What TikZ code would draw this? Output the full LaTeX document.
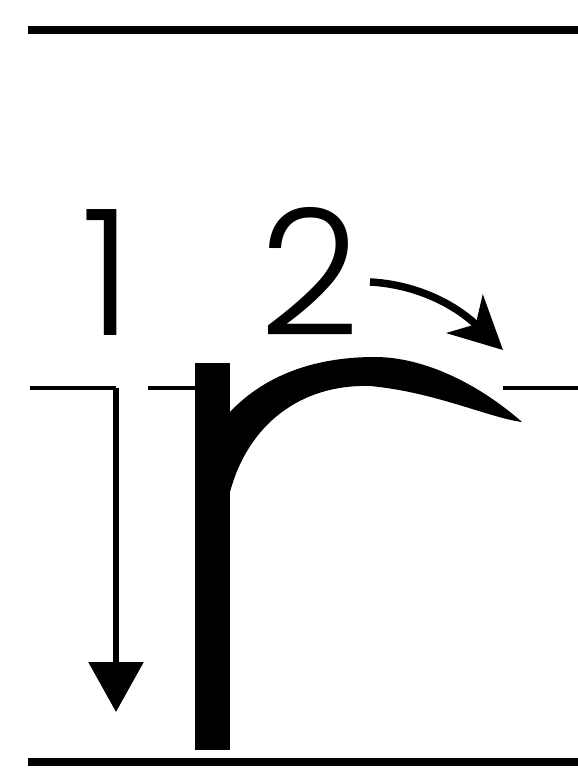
\documentclass[tikz,border=0pt]{standalone}
\usepackage{fontspec}
\newfontfamily\digitfont{Poppins Light}
\usetikzlibrary{arrows.meta}

\begin{document}
\begin{tikzpicture}[x=0.02cm,y=-0.02cm]
\tikzset{
  boundline/.style={line width=0.16cm},
  guideline/.style={line width=0.08cm},
  strokefill/.style={fill=black,draw=none},
  digitlabel/.style={anchor=base,inner sep=0pt,font=\digitfont\fontsize{100}{100}\selectfont},
  downarrow/.style={-{Triangle[length=1cm,width=1.08cm]},line width=0.12cm},
  turnarrow/.style={-{Stealth[length=1.05cm,width=1.05cm,inset=0.3cm]},line width=0.15cm}
}
\useasboundingbox (0,0) rectangle (578,771);
% top and bottom lines
\coordinate (t_l) at (28,30);
\coordinate (t_r) at (578,30);
\coordinate (b_l) at (28,762);
\coordinate (b_r) at (578,762);
\draw[boundline] (t_l) -- (t_r);
\draw[boundline] (b_l) -- (b_r);
% middle guide line
\coordinate (g_a) at (30,388);
\coordinate (g_b) at (116,388);
\coordinate (g_c) at (148,388);
\coordinate (g_d) at (195,388);
\coordinate (g_e) at (503,388);
\coordinate (g_f) at (578,388);
\draw[guideline] (g_a) -- (g_b);
\draw[guideline] (g_c) -- (g_d);
\draw[guideline] (g_e) -- (g_f);
% the letter
\fill[strokefill] (195,363) rectangle (230,750);
\fill[strokefill] (230,412) .. controls (262,378) and (310,357) .. (375,357)
  .. controls (425,357) and (480,385) .. (522,422)
  .. controls (490,418) and (435,392) .. (370,386)
  .. controls (300,384) and (248,425) .. (230,492) -- cycle;
% labels
\node[digitlabel] (lab_1) at (107,335) {1};
\node[digitlabel] (lab_2) at (310,335) {2};
% stroke order arrows
\coordinate (a1_s) at (116,388);
\coordinate (a1_e) at (116,712);
\coordinate (a2_s) at (370,282);
\coordinate (a2_e) at (503,350);
\draw[downarrow] (a1_s) -- (a1_e);
\draw[turnarrow] (a2_s) .. controls (410,284) and (450,300) .. (a2_e);
\end{tikzpicture}
\end{document}
